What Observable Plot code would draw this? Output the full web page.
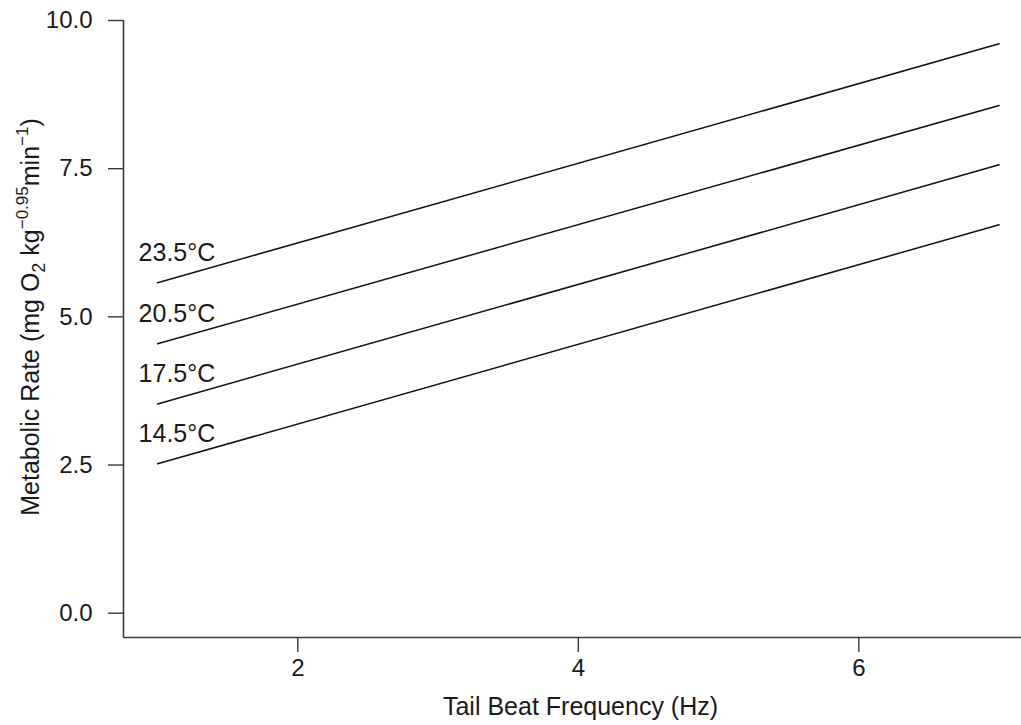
<!DOCTYPE html>
<html>
<head>
<meta charset="utf-8">
<script src="https://cdn.jsdelivr.net/npm/d3@7"></script>
<script src="https://cdn.jsdelivr.net/npm/@observablehq/plot@0.6"></script>
<style>
  html, body { margin: 0; padding: 0; background: #fff; }
</style>
</head>
<body>
<div id="chart"></div>
<script>
// Temperature series (labels) and line endpoints
const temps = ["14.5°C", "17.5°C", "20.5°C", "23.5°C"];
const freqStart = 1;   // Hz
const freqEnd = 7;     // Hz
const rateAtStart = [2.52, 3.53, 4.545, 5.575];
const rateAtEnd = [6.553, 7.565, 8.566, 9.607];

const xTicks = [2, 4, 6];
const yTicks = [0, 2.5, 5, 7.5, 10];
const xDomain = [0.757, 7.16];
const yDomain = [-0.41, 10];

const xTitle = "Tail Beat Frequency (Hz)";
const yTitle = "Metabolic Rate (mg O2 kg-0.95min-1)";

const lineRows = temps.flatMap((t, i) => [
  {t, x: freqStart, y: rateAtStart[i]},
  {t, x: freqEnd, y: rateAtEnd[i]}
]);
const labelRows = temps.map((t, i) => ({t, x: freqStart, y: rateAtStart[i]}));

const ink = "#1a1a1a";
const axisInk = "#3a3a3a";

const chart = Plot.plot({
  width: 1021,
  height: 725,
  marginLeft: 123,
  marginRight: 0,
  marginTop: 20,
  marginBottom: 88,
  style: {fontFamily: "'Liberation Sans', Arial, sans-serif", fontSize: "24px", color: ink, background: "#fff"},
  x: {domain: xDomain},
  y: {domain: yDomain},
  marks: [
    Plot.ruleX([xDomain[0]], {stroke: axisInk, strokeWidth: 1.6}),
    Plot.ruleY([yDomain[0]], {stroke: axisInk, strokeWidth: 1.6}),
    Plot.axisX({ticks: xTicks, tickSize: 15, tickPadding: 6, fontSize: 24, label: null, stroke: axisInk, strokeWidth: 1.4, tickFormat: d3.format("d")}),
    Plot.axisY({ticks: yTicks, tickSize: 15, tickPadding: 16, fontSize: 24, label: null, stroke: axisInk, strokeWidth: 1.4, tickFormat: d3.format(".1f")}),
    Plot.line(lineRows, {x: "x", y: "y", z: "t", stroke: "#111", strokeWidth: 1.5}),
    Plot.text(labelRows, {x: "x", y: "y", text: "t", textAnchor: "start", lineAnchor: "middle", dx: -19, dy: -30, fontSize: 25, fill: ink}),
    Plot.text([xTitle], {text: d => d, frameAnchor: "bottom", lineAnchor: "middle", dx: 8, dy: 69, fontSize: 25, fill: ink}),
    Plot.text([yTitle], {text: d => d, frameAnchor: "left", rotate: -90, textAnchor: "middle", lineAnchor: "middle", dx: -93, dy: -12, fontSize: 25, fill: ink})
  ]
});

document.getElementById("chart").appendChild(chart);

// Typeset the y-axis title with subscript/superscripts
const svgNS = "http://www.w3.org/2000/svg";
chart.querySelectorAll("text").forEach(el => {
  if (el.textContent === yTitle) {
    const parts = [
      {s: "Metabolic Rate (mg O", size: null, shift: 0},
      {s: "2", size: 18, shift: 6},
      {s: " kg", size: null, shift: 0},
      {s: "\u22120.95", size: 17, shift: -11},
      {s: "min", size: null, shift: 0},
      {s: "\u22121", size: 17, shift: -11},
      {s: ")", size: null, shift: 0}
    ];
    const baseDy = el.getAttribute("dy");
    while (el.firstChild) el.removeChild(el.firstChild);
    let prevShift = 0;
    parts.forEach((p) => {
      const ts = document.createElementNS(svgNS, "tspan");
      ts.textContent = p.s;
      if (p.size) ts.setAttribute("font-size", p.size);
      const d = p.shift - prevShift;
      if (d !== 0) ts.setAttribute("dy", d);
      prevShift = p.shift;
      el.appendChild(ts);
    });
    if (baseDy) el.setAttribute("dy", baseDy);
  }
});
</script>
</body>
</html>
